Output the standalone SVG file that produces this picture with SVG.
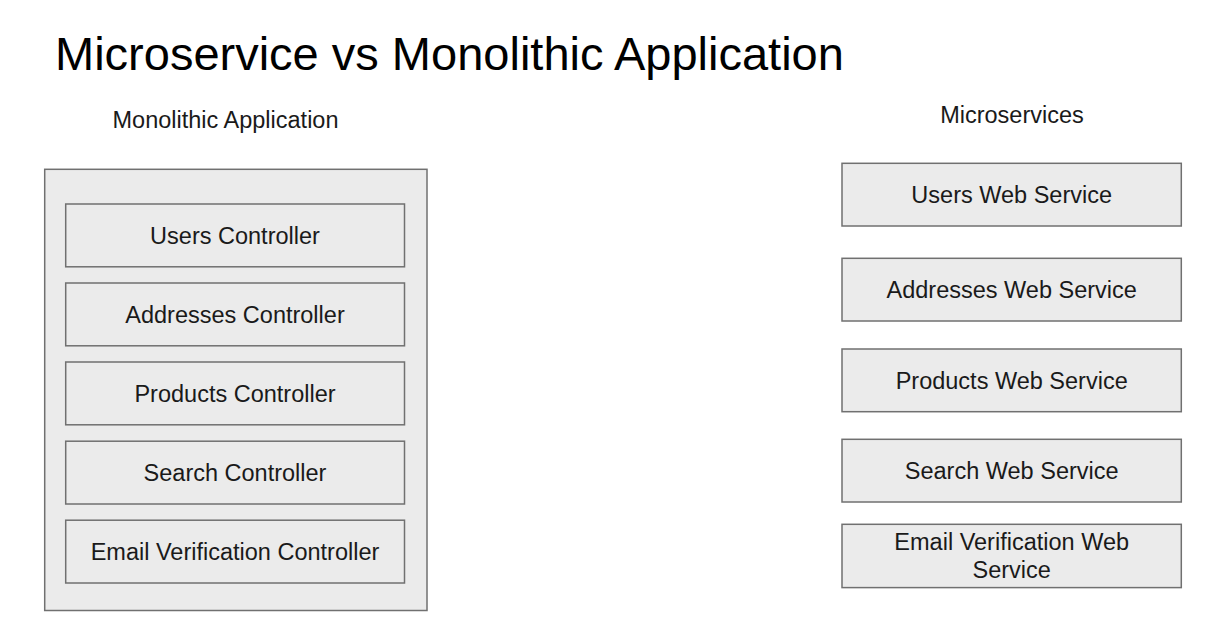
<svg xmlns="http://www.w3.org/2000/svg" width="1217" height="634" viewBox="0 0 1217 634">
<style>
.box{fill:#ebebeb;stroke:#707070;stroke-width:1.5}
.lbl{font-family:"Liberation Sans",Arial,sans-serif;font-size:23.5px;fill:#1a1a1a;text-anchor:middle}
.title{font-family:"Liberation Sans",Arial,sans-serif;font-size:47px;fill:#000}
</style>
<rect width="1217" height="634" fill="#ffffff"/>
<text class="title" x="55" y="70">Microservice vs Monolithic Application</text>
<text class="lbl" x="225.5" y="128.3">Monolithic Application</text>
<text class="lbl" x="1012" y="123.3">Microservices</text>
<g id="monolith">
<rect class="box" x="44.7" y="169.3" width="382.3" height="441.2"/>
</g>
<g id="users-controller">
<rect class="box" x="65.7" y="204" width="338.8" height="62.8"/>
<text class="lbl" x="235" y="243.8">Users Controller</text>
</g>
<g id="addresses-controller">
<rect class="box" x="65.7" y="283" width="338.8" height="62.8"/>
<text class="lbl" x="235" y="322.8">Addresses Controller</text>
</g>
<g id="products-controller">
<rect class="box" x="65.7" y="362" width="338.8" height="62.8"/>
<text class="lbl" x="235" y="401.8">Products Controller</text>
</g>
<g id="search-controller">
<rect class="box" x="65.7" y="441.2" width="338.8" height="62.8"/>
<text class="lbl" x="235" y="481">Search Controller</text>
</g>
<g id="email-controller">
<rect class="box" x="65.7" y="520.2" width="338.8" height="62.8"/>
<text class="lbl" x="235" y="560">Email Verification Controller</text>
</g>
<g id="users-ws">
<rect class="box" x="842" y="163.3" width="339.3" height="62.7"/>
<text class="lbl" x="1011.7" y="203.1">Users Web Service</text>
</g>
<g id="addresses-ws">
<rect class="box" x="842" y="258.3" width="339.3" height="62.7"/>
<text class="lbl" x="1011.7" y="298.1">Addresses Web Service</text>
</g>
<g id="products-ws">
<rect class="box" x="842" y="349" width="339.3" height="62.7"/>
<text class="lbl" x="1011.7" y="388.8">Products Web Service</text>
</g>
<g id="search-ws">
<rect class="box" x="842" y="439.3" width="339.3" height="62.7"/>
<text class="lbl" x="1011.7" y="479.1">Search Web Service</text>
</g>
<g id="email-ws">
<rect class="box" x="842" y="524.3" width="339.3" height="63.3"/>
<text class="lbl" x="1011.7" y="550.3">Email Verification Web</text>
<text class="lbl" x="1011.7" y="578">Service</text>
</g>
<g id="connectors"/>
</svg>
